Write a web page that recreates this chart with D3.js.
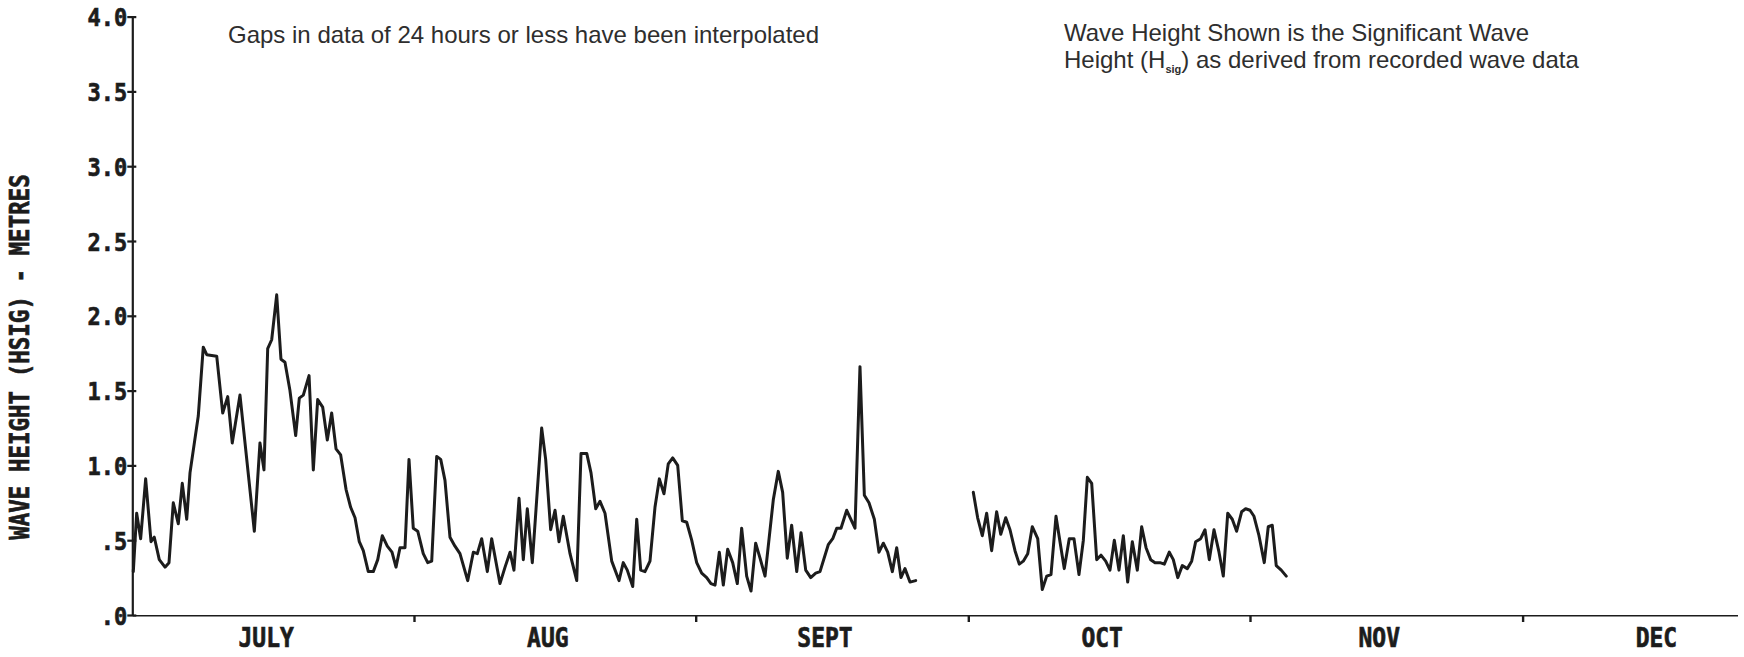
<!DOCTYPE html>
<html>
<head>
<meta charset="utf-8">
<script src="https://cdn.jsdelivr.net/npm/d3@7"></script>
<style>
  html, body { margin: 0; padding: 0; background: #fff; }
  svg { display: block; }
</style>
</head>
<body>
<script>
// Significant wave height (Hsig), July to December.
// Times are days counted from 1 July 00:00; heights in metres.
const months = ["JULY", "AUG", "SEPT", "OCT", "NOV", "DEC"];
const monthStartDays = [0, 31, 62, 92, 123, 153, 184];
const yTickValues = [0, 0.5, 1, 1.5, 2, 2.5, 3, 3.5, 4];
const yTickLabels = [".0", ".5", "1.0", "1.5", "2.0", "2.5", "3.0", "3.5", "4.0"];

// First continuous run: 1 July to late September
const run1Days = [
  0.11, 0.48, 0.92, 1.47, 2.06, 2.42, 2.97, 3.60, 4.04, 4.51,
  5.06, 5.50, 5.99, 6.35, 7.26, 7.81, 8.19, 9.29, 9.95, 10.50,
  11.00, 11.85, 13.43, 14.05, 14.49, 14.90, 15.34, 15.89, 16.36, 16.80,
  17.35, 17.98, 18.38, 18.82, 19.45, 19.92, 20.40, 20.95, 21.46, 21.94,
  22.42, 22.93, 23.52, 24.03, 24.51, 24.98, 25.42, 25.97, 26.52, 27.01,
  27.51, 28.06, 28.58, 29.02, 29.46, 30.01, 30.45, 30.92, 31.41, 32.02,
  32.51, 32.95, 33.50, 33.94, 34.41, 34.96, 35.51, 36.06, 36.91, 37.53,
  37.97, 38.45, 39.07, 39.55, 40.46, 41.02, 41.57, 42.00, 42.56, 43.03,
  43.47, 44.02, 45.05, 45.49, 46.04, 46.52, 46.96, 47.43, 48.17, 48.91,
  49.38, 50.01, 50.48, 51.00, 51.47, 52.02, 52.76, 53.56, 54.03, 54.47,
  55.07, 55.51, 55.95, 56.42, 56.97, 57.52, 58.00, 58.51, 58.98, 59.47,
  60.02, 60.53, 61.01, 61.56, 62.11, 62.66, 63.21, 63.68, 64.13, 64.60,
  65.04, 65.52, 66.07, 66.58, 67.06, 67.61, 68.09, 68.60, 69.08, 69.63,
  70.54, 71.09, 71.57, 72.08, 72.56, 73.12, 73.59, 74.11, 74.66, 75.21,
  75.68, 76.59, 77.08, 77.52, 77.99, 78.62, 79.53, 80.08, 80.56, 81.07,
  81.66, 82.17, 82.65, 83.13, 83.64, 84.12, 84.59, 85.03, 85.58, 86.21
];
const run1Heights = [
  0.29, 0.68, 0.51, 0.91, 0.49, 0.52, 0.37, 0.32, 0.35, 0.75,
  0.61, 0.88, 0.64, 0.95, 1.33, 1.79, 1.74, 1.73, 1.35, 1.46,
  1.15, 1.47, 0.56, 1.15, 0.97, 1.78, 1.84, 2.14, 1.71, 1.69,
  1.50, 1.20, 1.45, 1.47, 1.60, 0.97, 1.44, 1.39, 1.17, 1.35,
  1.11, 1.07, 0.84, 0.72, 0.65, 0.49, 0.43, 0.29, 0.29, 0.37,
  0.53, 0.46, 0.42, 0.32, 0.45, 0.45, 1.04, 0.58, 0.56, 0.41,
  0.35, 0.36, 1.06, 1.04, 0.90, 0.52, 0.46, 0.41, 0.23, 0.42,
  0.41, 0.51, 0.29, 0.51, 0.21, 0.32, 0.42, 0.30, 0.78, 0.37,
  0.71, 0.35, 1.25, 1.04, 0.57, 0.70, 0.49, 0.66, 0.41, 0.23,
  1.08, 1.08, 0.95, 0.71, 0.76, 0.68, 0.36, 0.23, 0.35, 0.30,
  0.19, 0.64, 0.30, 0.29, 0.36, 0.72, 0.91, 0.81, 1.01, 1.05,
  1.00, 0.63, 0.62, 0.50, 0.35, 0.28, 0.25, 0.21, 0.20, 0.42,
  0.20, 0.44, 0.35, 0.21, 0.58, 0.26, 0.16, 0.48, 0.38, 0.26,
  0.77, 0.96, 0.82, 0.38, 0.60, 0.29, 0.55, 0.30, 0.25, 0.28,
  0.29, 0.47, 0.51, 0.58, 0.58, 0.70, 0.58, 1.66, 0.80, 0.75,
  0.64, 0.42, 0.48, 0.42, 0.29, 0.45, 0.25, 0.31, 0.22, 0.23
];

// Second continuous run: early October to early November
const run2Days = [
  92.55, 93.03, 93.54, 94.02, 94.57, 95.12, 95.57, 96.12, 96.59, 97.14,
  97.61, 98.05, 98.54, 99.04, 99.64, 100.14, 100.63, 101.10, 101.65, 102.09,
  102.56, 103.11, 103.63, 104.18, 104.66, 105.10, 105.58, 106.13, 106.60, 107.12,
  107.59, 108.07, 108.58, 109.06, 109.54, 110.05, 110.60, 111.08, 111.56, 112.07,
  112.55, 113.10, 113.57, 114.12, 114.56, 115.05, 115.55, 116.10, 116.58, 117.02,
  117.57, 118.05, 118.52, 119.04, 119.59, 120.06, 120.55, 121.05, 121.53, 122.08,
  122.52, 123.00, 123.44, 123.99, 124.57, 125.01, 125.45, 125.89, 126.44, 126.99
];
const run2Heights = [
  0.82, 0.65, 0.53, 0.68, 0.43, 0.69, 0.54, 0.65, 0.57, 0.43,
  0.34, 0.36, 0.41, 0.59, 0.51, 0.17, 0.26, 0.27, 0.66, 0.49,
  0.31, 0.51, 0.51, 0.27, 0.50, 0.92, 0.88, 0.37, 0.40, 0.36,
  0.30, 0.50, 0.30, 0.53, 0.22, 0.49, 0.30, 0.59, 0.45, 0.37,
  0.35, 0.35, 0.34, 0.42, 0.37, 0.25, 0.33, 0.31, 0.36, 0.49,
  0.51, 0.57, 0.37, 0.57, 0.42, 0.26, 0.68, 0.64, 0.56, 0.69,
  0.71, 0.70, 0.66, 0.53, 0.35, 0.59, 0.60, 0.33, 0.30, 0.26
];

const W = 1744, H = 657;
const ink = "#1c1c1c";
const plotterFont = "'DejaVu Sans Mono', monospace";
const textFont = "'Liberation Sans', Arial, sans-serif";

// Plotter lettering: heavy, slightly tall mono capitals
function plotterText(sel, size) {
  sel.attr("font-family", plotterFont)
    .attr("font-weight", "bold")
    .attr("font-size", size)
    .attr("fill", ink)
    .attr("stroke", ink)
    .attr("stroke-width", 0.6)
    .style("font-variant-numeric", "slashed-zero")
    .style("font-feature-settings", "'zero' 1");
}

const svg = d3.select("body").append("svg")
  .attr("width", W).attr("height", H)
  .attr("viewBox", `0 0 ${W} ${H}`);

const x = d3.scaleLinear().domain([0, 184]).range([132.3, 1804.3]);
const y = d3.scaleLinear().domain([0, 4]).range([615, 16.6]);

// The sheet ends before December does; clip the time axis there.
svg.append("defs").append("clipPath").attr("id", "sheet")
  .append("rect").attr("x", 0).attr("y", 0).attr("width", 1738).attr("height", H);

// ---- x axis: month boundaries as crossing ticks, names centred in each month
const xAxis = svg.append("g")
  .attr("transform", `translate(0,${y(0)})`)
  .attr("clip-path", "url(#sheet)")
  .call(d3.axisBottom(x)
    .tickValues(monthStartDays.slice(1, 6))
    .tickSizeOuter(0)
    .tickFormat(""));
xAxis.select(".domain").attr("stroke", ink).attr("stroke-width", 2.2);
xAxis.selectAll(".tick line")
  .attr("y1", -5).attr("y2", 7)
  .attr("stroke", ink).attr("stroke-width", 2.4);

svg.append("g")
  .selectAll("text")
  .data(months)
  .join("text")
  .attr("transform", (d, i) =>
    `translate(${x((monthStartDays[i] + monthStartDays[i + 1]) / 2) - 7},647) scale(1,1.12)`)
  .attr("text-anchor", "middle")
  .call(plotterText, 23)
  .text(d => d);

// ---- y axis
const yAxis = svg.append("g")
  .attr("transform", `translate(${x(0)},0)`)
  .call(d3.axisLeft(y)
    .tickValues(yTickValues)
    .tickSizeOuter(0)
    .tickFormat((d, i) => yTickLabels[i]));
yAxis.select(".domain").attr("stroke", ink).attr("stroke-width", 2.2);
yAxis.selectAll(".tick line")
  .attr("x1", -5).attr("x2", 4)
  .attr("stroke", ink).attr("stroke-width", 2.2);
yAxis.selectAll(".tick text")
  .attr("x", -5)
  .attr("dy", "0.36em")
  .attr("transform", "scale(1,1.15)")
  .call(plotterText, 22);

svg.append("text")
  .attr("transform", `translate(29,357) rotate(-90) scale(1,1.15)`)
  .attr("text-anchor", "middle")
  .call(plotterText, 22.5)
  .text("WAVE HEIGHT (HSIG) - METRES");

// ---- wave height trace, one path per continuous run
const line = d3.line()
  .x(d => x(d[0]))
  .y(d => y(d[1]));

const runs = [
  d3.zip(run1Days, run1Heights),
  d3.zip(run2Days, run2Heights)
];

svg.append("g")
  .selectAll("path")
  .data(runs)
  .join("path")
  .attr("d", line)
  .attr("fill", "none")
  .attr("stroke", ink)
  .attr("stroke-width", 3)
  .attr("stroke-linejoin", "round")
  .attr("stroke-linecap", "round");

// ---- notes at the top
const noteColor = "#2e2e2e";
svg.append("text")
  .attr("x", 228).attr("y", 43)
  .attr("font-family", textFont)
  .attr("font-size", 24)
  .attr("fill", noteColor)
  .text("Gaps in data of 24 hours or less have been interpolated");

svg.append("text")
  .attr("x", 1064).attr("y", 41)
  .attr("font-family", textFont)
  .attr("font-size", 24)
  .attr("fill", noteColor)
  .text("Wave Height Shown is the Significant Wave");

const second = svg.append("text")
  .attr("x", 1064).attr("y", 68)
  .attr("font-family", textFont)
  .attr("font-size", 24)
  .attr("fill", noteColor);
second.append("tspan").text("Height (H");
second.append("tspan").attr("font-size", 11).attr("font-weight", "bold").attr("dy", 5).text("sig");
second.append("tspan").attr("dy", -5).text(") as derived from recorded wave data");
</script>
</body>
</html>
